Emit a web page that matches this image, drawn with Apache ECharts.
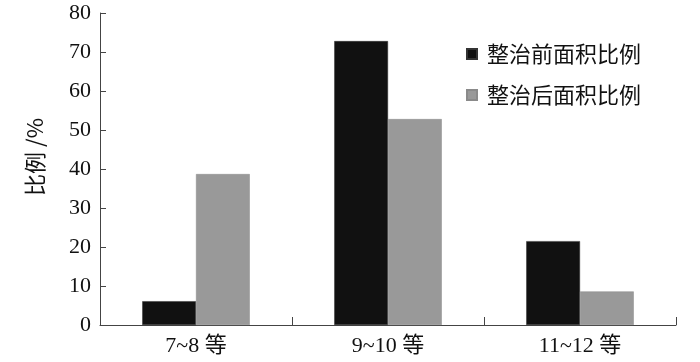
<!DOCTYPE html>
<html><head><meta charset="utf-8">
<script src="https://cdn.jsdelivr.net/npm/echarts@6/dist/echarts.min.js"></script>
<style>html,body{margin:0;padding:0;background:#fff}#c{width:700px;height:362px}</style>
</head><body><div id="c"></div>
<script>
const categories = ['7~8 等', '9~10 等', '11~12 等'];
const seriesNames = ['整治前面积比例', '整治后面积比例'];
const beforeValues = [6.1, 72.8, 21.5];
const afterValues = [38.7, 52.8, 8.6];
const yTicks = [0, 10, 20, 30, 40, 50, 60, 70, 80];

const chart = echarts.init(document.getElementById('c'), null, {renderer: 'canvas'});
const serif = '"Liberation Serif", "Noto Sans CJK SC", serif';
chart.setOption({
  animation: false,
  backgroundColor: '#fff',
  grid: {left: 100, right: 24, top: 13, bottom: 37, containLabel: false},
  legend: {
    orient: 'vertical', left: 461, top: 38, itemWidth: 10, itemHeight: 10, itemGap: 19,
    icon: 'rect',
    textStyle: {fontSize: 22, color: '#111', fontFamily: '"Noto Sans CJK SC", sans-serif', padding: [0, 0, 0, 5]},
    data: seriesNames
  },
  xAxis: {
    type: 'category', data: categories,
    axisLine: {lineStyle: {color: '#444', width: 1}},
    axisTick: {show: true, inside: true, length: 8, alignWithLabel: false, lineStyle: {color: '#444'}},
    axisLabel: {fontSize: 22, color: '#111', margin: 10, fontFamily: serif}
  },
  yAxis: {
    type: 'value', min: yTicks[0], max: yTicks[yTicks.length - 1], interval: 10,
    name: '比例 /%', nameLocation: 'middle', nameGap: 54, nameRotate: 90,
    nameTextStyle: {fontSize: 22, color: '#111', fontFamily: '"Noto Sans CJK SC", sans-serif', padding: [0, 0, 0, 24]},
    axisLine: {show: true, lineStyle: {color: '#444', width: 1}},
    axisTick: {show: true, inside: true, length: 6, lineStyle: {color: '#444'}},
    splitLine: {show: false},
    axisLabel: {fontSize: 22, color: '#111', margin: 9, fontFamily: serif}
  },
  series: [
    {name: seriesNames[0], type: 'bar', data: beforeValues, barGap: '0%', barCategoryGap: '44%',
     itemStyle: {color: '#111111', borderColor: '#333', borderWidth: 0.5}},
    {name: seriesNames[1], type: 'bar', data: afterValues, barGap: '0%', barCategoryGap: '44%',
     itemStyle: {color: '#999999', borderColor: '#8a8a8a', borderWidth: 0.5}}
  ]
});
</script></body></html>
